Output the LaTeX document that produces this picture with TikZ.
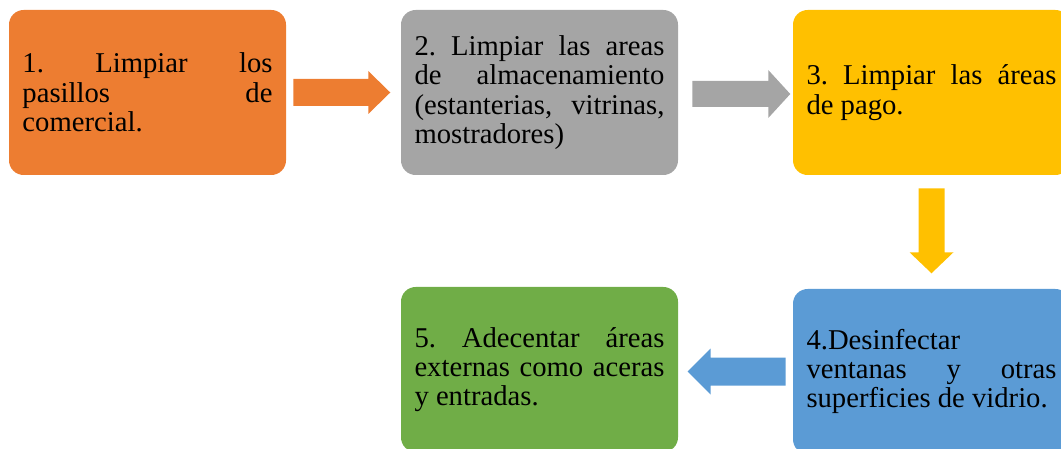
\documentclass[tikz,border=0pt]{standalone}
\usepackage{fontspec}
\setmainfont{Liberation Serif}
\usepackage{tikz}
\usetikzlibrary{calc}
\definecolor{naranja}{HTML}{ED7D31}
\definecolor{gris}{HTML}{A5A5A5}
\definecolor{amarillo}{HTML}{FFC000}
\definecolor{azul}{HTML}{5B9BD5}
\definecolor{verde}{HTML}{70AD47}
\tolerance=10000
\hyphenpenalty=10000
\frenchspacing

\begin{document}
\begin{tikzpicture}[x=0.75pt,y=-0.75pt,
  paso/.style={rounded corners=11pt,minimum width=207.75pt,minimum height=123.75pt,
    text width=187.5pt,align=justify,inner sep=0pt,
    font=\fontsize{21.5}{22}\selectfont}]
\useasboundingbox (0,0) rectangle (1061,449);
\clip (0,0) rectangle (1061,449);
%\draw[very thin,color=gray,step=50] (0,0) grid (1061,449);
\node[paso,fill=naranja] (p1) at (147.5,92.5) {1. Limpiar los\linebreak pasillos de\linebreak comercial.};
\node[paso,fill=gris] (p2) at (539.5,92.5) {2. Limpiar las areas\linebreak de almacenamiento\linebreak (estanterias, vitrinas,\linebreak mostradores)};
\node[paso,fill=amarillo] (p3) at (931.5,92.5) {3. Limpiar las áreas\linebreak de pago.};
\node[paso,fill=azul] (p4) at (931.5,371.5) {4.Desinfectar\\ ventanas y otras\linebreak superficies de vidrio.};
\node[paso,fill=verde] (p5) at (539.5,369.5) {5. Adecentar áreas\linebreak externas como aceras\linebreak y entradas.};
% flechas de bloque
\fill[naranja] ($(p1.east)+(7,-13.5)$) -- ++(75,0) -- ++(0,-8) -- ++(22,21.5) -- ++(-22,21.5) -- ++(0,-8) -- ++(-75,0) -- cycle;
\fill[gris] ($(p2.east)+(14,-11.5)$) -- ++(76,0) -- ++(0,-11) -- ++(22,24) -- ++(-22,24) -- ++(0,-11) -- ++(-76,0) -- cycle;
\fill[amarillo] ($(p3.south)+(-13,13)$) -- ++(0,64) -- ++(-9,0) -- ++(22,21) -- ++(22,-21) -- ++(-9,0) -- ++(0,-64) -- cycle;
\fill[azul] ($(p4.west)+(-7,-14)$) -- ++(-75,0) -- ++(0,-9) -- ++(-23,23) -- ++(23,23) -- ++(0,-9) -- ++(75,0) -- cycle;
\end{tikzpicture}
\end{document}
